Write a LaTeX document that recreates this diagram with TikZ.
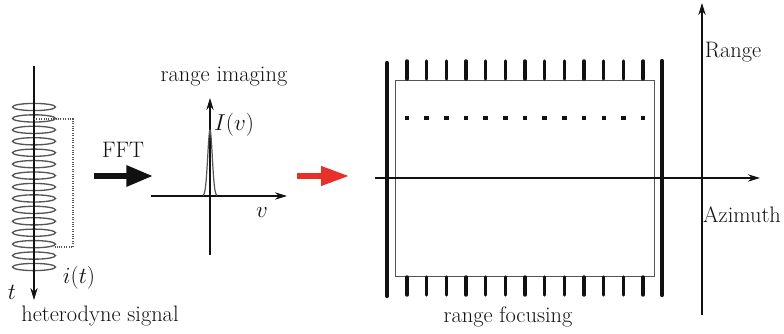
\documentclass[tikz,border=0pt]{standalone}
\usepackage{tikz}
\usetikzlibrary{arrows.meta,positioning}
\definecolor{Ink}{HTML}{111111}
\definecolor{Coil}{HTML}{555555}
\definecolor{Hot}{HTML}{E8302A}

\begin{document}
\begin{tikzpicture}[x=0.75pt,y=-0.75pt,
    lbl/.style={font=\fontsize{16.8}{19}\selectfont,inner sep=0pt,text=Ink},
    axis/.style={-{Stealth[length=9pt,width=5.5pt]},line width=0.8pt,Ink},
    bigarr/.style={-{Triangle[length=20pt,width=15pt]},line width=4.5pt},
    bar/.style={line width=3.2pt,line cap=round,Ink},
    tick/.style={line width=2.6pt,line cap=round,Ink}
  ]
    \useasboundingbox (0,0) rectangle (784,334);
    % heterodyne signal
    \coordinate (ctop) at (34,66);
    \coordinate (cbot) at (34,300);
    \foreach \k in {0,...,14}
      \draw[Coil,line width=1pt] (34,107+11.43*\k) ellipse [x radius=21.5,y radius=3.6];
    \draw[axis] (ctop)--(cbot);
    \draw[Coil,densely dotted,line width=0.8pt] (34,119)--(73,119)--(73,247)--(55,247);
    \node[lbl] (it) at (79,278) {$i(t)$};
    \node[lbl] (tt) at (12,292) {$t$};
    \node[lbl] (het) at (100,316) {heterodyne signal};
    % FFT
    \node[lbl] (fft) at (123,150) {FFT};
    \coordinate (fa) at (94,176);
    \coordinate (fb) at (153,176);
    \draw[bigarr,Ink] (fa)--(fb);
    % range imaging
    \node[lbl] (rimg) at (224,77) {range imaging};
    \coordinate (o1) at (210,196);
    \draw[axis] (210,255)--(210,98);
    \draw[axis] (151,196)--(287,196);
    \draw[Coil,line width=0.9pt] plot[domain=-7:7,samples=41] ({210+\x},{196-66*exp(-(\x/3.2)^2)});
    \node[lbl] (Iv) at (234,125) {$I(v)$};
    \node[lbl] (vv) at (262,213) {$v$};
    % red arrow
    \coordinate (ra) at (297,176);
    \coordinate (rb) at (349,176);
    \draw[bigarr,Hot,line width=3.8pt,-{Triangle[length=21pt,width=14pt]}] (ra)--(rb);
    % range focusing
    \draw[Coil,line width=0.7pt] (395,80) rectangle (654,276);
    \draw[bar] (387,63)--(387,296);
    \draw[bar] (662,61)--(662,295);
    \foreach \k in {0,...,12}{
      \draw[tick] (407+19.67*\k,61)--(407+19.67*\k,79);
      \draw[tick] (407+19.67*\k,277)--(407+19.67*\k,295);
      \fill[Ink] (407+19.67*\k,118) +(-2.2,-2.2) rectangle +(2.2,2.2);
    }
    \draw[axis] (375,178)--(760,178);
    \draw[axis] (702,315)--(702,3);
    \node[lbl] (rng) at (733,52) {Range};
    \node[lbl] (azi) at (742,215) {Azimuth};
    \node[lbl] (foc) at (508,317) {range focusing};
  \end{tikzpicture}
\end{document}
